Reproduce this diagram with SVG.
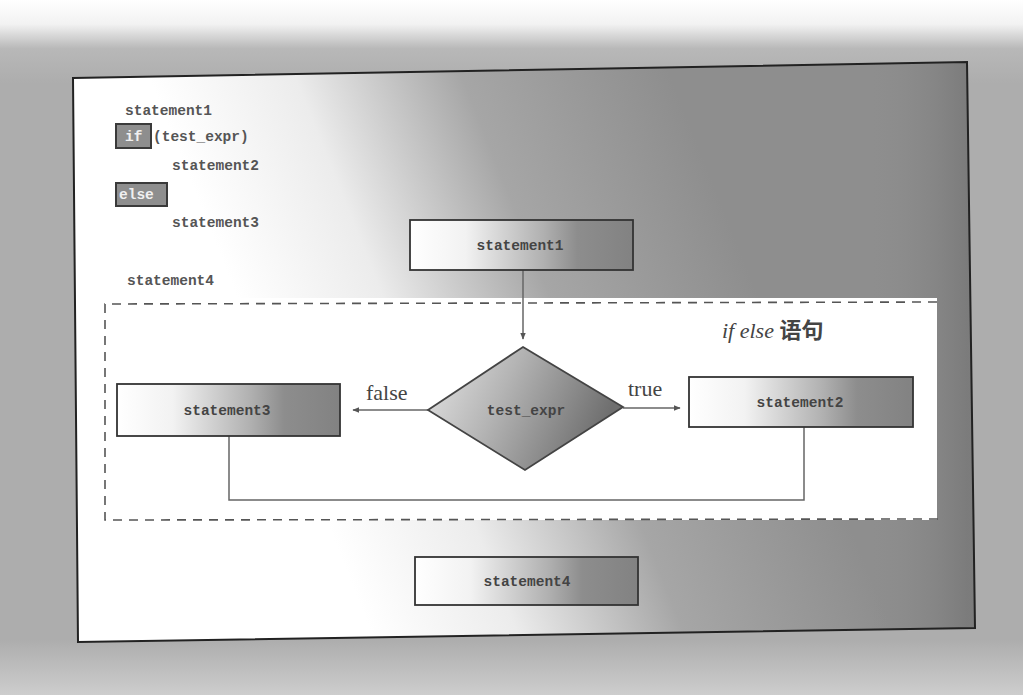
<svg xmlns="http://www.w3.org/2000/svg" width="1023" height="695" viewBox="0 0 1023 695">
<defs>
<linearGradient id="bg" x1="0" y1="0" x2="0" y2="695" gradientUnits="userSpaceOnUse">
<stop offset="0" stop-color="#ffffff"/>
<stop offset="0.035" stop-color="#f2f2f2"/>
<stop offset="0.07" stop-color="#b8b8b8"/>
<stop offset="0.12" stop-color="#adadad"/>
<stop offset="0.92" stop-color="#adadad"/>
<stop offset="1" stop-color="#cdcdcd"/>
</linearGradient>
<linearGradient id="panel" x1="250" y1="330" x2="700" y2="150" gradientUnits="userSpaceOnUse">
<stop offset="0" stop-color="#ffffff"/>
<stop offset="0.28" stop-color="#ececec"/>
<stop offset="0.6" stop-color="#a6a6a6"/>
<stop offset="1" stop-color="#8e8e8e"/>
</linearGradient>
<linearGradient id="panelEdge" x1="870" y1="0" x2="967" y2="0" gradientUnits="userSpaceOnUse">
<stop offset="0" stop-color="#8c8c8c" stop-opacity="0"/>
<stop offset="1" stop-color="#777" stop-opacity="0.8"/>
</linearGradient>
<linearGradient id="box" x1="0" y1="0" x2="1" y2="0">
<stop offset="0" stop-color="#ffffff"/>
<stop offset="0.25" stop-color="#f2f2f2"/>
<stop offset="0.6" stop-color="#b0b0b0"/>
<stop offset="0.75" stop-color="#8d8d8d"/>
<stop offset="1" stop-color="#828282"/>
</linearGradient>
<linearGradient id="dia" x1="0" y1="0" x2="1" y2="0.3">
<stop offset="0" stop-color="#e6e6e6"/>
<stop offset="0.45" stop-color="#b4b4b4"/>
<stop offset="1" stop-color="#6f6f6f"/>
</linearGradient>
<marker id="arr" viewBox="0 0 10 10" refX="9" refY="5" markerWidth="7" markerHeight="7" orient="auto" markerUnits="userSpaceOnUse">
<path d="M0,1 L10,5 L0,9 z" fill="#555"/>
</marker>
<style>
.code{font-family:"Liberation Mono","DejaVu Sans Mono",monospace;font-size:14.5px;font-weight:bold;fill:#555}
.kw{font-family:"Liberation Mono","DejaVu Sans Mono",monospace;font-size:14.5px;font-weight:bold;fill:#f0f0f0}
.kwbox{fill:#8e8e8e;stroke:#3a3a3a;stroke-width:2}
.node{fill:url(#box);stroke:#333;stroke-width:1.8}
.ntext{font-family:"Liberation Mono","DejaVu Sans Mono",monospace;font-size:14.5px;font-weight:bold;fill:#444;text-anchor:middle;dominant-baseline:middle}
.lbl{font-family:"Liberation Serif","DejaVu Serif",serif;font-size:22px;fill:#444}
.conn{fill:none;stroke:#666;stroke-width:1.5}
.dash{fill:none;stroke:#555;stroke-width:1.6;stroke-dasharray:9 7}
</style>
</defs>

<rect x="0" y="0" width="1023" height="695" fill="url(#bg)"/>

<g id="panel-bg">
<polygon points="73,78 967,62 975,628 78,642" fill="url(#panel)"/>
<polygon points="870,64 967,62 975,628 870,630" fill="url(#panelEdge)"/>
<polygon points="73,78 967,62 975,628 78,642" fill="none" stroke="#222" stroke-width="2"/>
</g>

<g id="code">
<text class="code" x="125" y="115">statement1</text>
<rect class="kwbox" x="116" y="124" width="35" height="24"/>
<text class="kw" x="125" y="141">if</text>
<text class="code" x="153" y="141">(test_expr)</text>
<text class="code" x="172" y="170">statement2</text>
<rect class="kwbox" x="116" y="183" width="51" height="23"/>
<text class="kw" x="119" y="199">else</text>
<text class="code" x="172" y="227">statement3</text>
<text class="code" x="127" y="285">statement4</text>
</g>

<g id="ifelse-region">
<rect x="105" y="298" width="832" height="222" fill="#ffffff"/>
<path class="dash" d="M937,302 L105,304 L105,520 L940,519"/>
<text x="722" y="338" class="lbl" font-size="24"><tspan font-style="italic">if else</tspan> <tspan font-family="'Noto Sans CJK SC',sans-serif" font-weight="bold" font-size="22">语句</tspan></text>
</g>

<g id="connectors">
<line class="conn" x1="523" y1="270" x2="523" y2="339" marker-end="url(#arr)"/>
<line class="conn" x1="428" y1="410" x2="353" y2="410" marker-end="url(#arr)"/>
<line class="conn" x1="623" y1="408" x2="680" y2="408" marker-end="url(#arr)"/>
<polyline class="conn" points="229,436 229,500 804,500 804,427"/>
<text class="lbl" x="366" y="400">false</text>
<text class="lbl" x="628" y="396">true</text>
</g>

<g id="statement1">
<rect class="node" x="410" y="220" width="223" height="50"/>
<text class="ntext" x="520" y="246">statement1</text>
</g>

<g id="test_expr">
<polygon points="523,347 623,407 525,470 428,410" fill="url(#dia)" stroke="#444" stroke-width="1.8"/>
<text class="ntext" x="526" y="411">test_expr</text>
</g>

<g id="statement3">
<rect class="node" x="117" y="384" width="223" height="52"/>
<text class="ntext" x="227" y="411">statement3</text>
</g>

<g id="statement2">
<rect class="node" x="689" y="377" width="224" height="50"/>
<text class="ntext" x="800" y="403">statement2</text>
</g>

<g id="statement4">
<rect class="node" x="415" y="557" width="223" height="48"/>
<text class="ntext" x="527" y="582">statement4</text>
</g>
</svg>
